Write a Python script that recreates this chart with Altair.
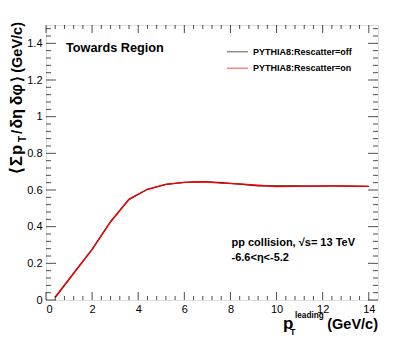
import altair as alt
import pandas as pd

# ---- data ----
pt_centers = [0.4, 1.2, 2.0, 2.8, 3.6, 4.4, 5.2, 6.0, 6.8, 7.6, 8.4, 9.2, 10.0, 10.8, 11.6, 12.4, 13.2, 14.0]
off_vals = [0.015, 0.146, 0.276, 0.427, 0.549, 0.604, 0.631, 0.642, 0.646, 0.640, 0.632, 0.622, 0.623, 0.622, 0.621, 0.622, 0.621, 0.620]
on_vals = [0.015, 0.146, 0.276, 0.427, 0.549, 0.604, 0.631, 0.642, 0.645, 0.637, 0.633, 0.626, 0.618, 0.620, 0.621, 0.622, 0.621, 0.620]
series_names = ["PYTHIA8:Rescatter=off", "PYTHIA8:Rescatter=on"]

x_major = [0, 2, 4, 6, 8, 10, 12, 14]
x_minor = [round(0.4 * i, 2) for i in range(1, 36) if (i % 5) != 0]
y_major = [0, 0.2, 0.4, 0.6, 0.8, 1.0, 1.2, 1.4]
y_minor = [round(0.04 * i, 2) for i in range(1, 38) if (i % 5) != 0]

W, H = 332, 275
FONT = "Liberation Sans"

rows = []
for name, vals in zip(series_names, [off_vals, on_vals]):
    for x, v in zip(pt_centers, vals):
        rows.append({"pt": x, "val": v, "series": name})
df = pd.DataFrame(rows)

xs = alt.Scale(domain=[0, 14.4], nice=False, zero=False)
ys = alt.Scale(domain=[0, 1.5], nice=False, zero=False)
xaxis = alt.Axis(values=x_major, ticks=False, domain=False, grid=False,
                 labelFont=FONT, labelFontSize=11, labelPadding=3,
                 labelColor="black", title=None, format="~g")
yaxis = alt.Axis(values=y_major, ticks=False, domain=False, grid=False,
                 labelFont=FONT, labelFontSize=11, labelPadding=4,
                 labelColor="black", title=None, format="~g")

lines = alt.Chart(df).mark_line(strokeWidth=1.3).encode(
    x=alt.X("pt:Q", scale=xs, axis=xaxis),
    y=alt.Y("val:Q", scale=ys, axis=yaxis),
    color=alt.Color("series:N", scale=alt.Scale(domain=series_names, range=["#1a1a1a", "#ff0000"]), legend=None),
    order=alt.Order("series:N"),
)

xmaj = pd.DataFrame({"v": x_major})
xmin = pd.DataFrame({"v": x_minor})
ymaj = pd.DataFrame({"v": y_major})
ymin = pd.DataFrame({"v": y_minor})

def xticks(d, ln):
    out = []
    for yc in (H - ln / 2, ln / 2):
        out.append(alt.Chart(d).mark_tick(color="black", thickness=1, size=ln, orient="vertical").encode(
            x=alt.X("v:Q", scale=xs, axis=xaxis), y=alt.value(yc)))
    return out

def yticks(d, ln):
    out = []
    for xc in (ln / 2, W - ln / 2):
        out.append(alt.Chart(d).mark_tick(color="black", thickness=1, size=ln, orient="horizontal").encode(
            y=alt.Y("v:Q", scale=ys, axis=yaxis), x=alt.value(xc)))
    return out

ticks = xticks(xmaj, 8) + xticks(xmin, 4) + yticks(ymaj, 10) + yticks(ymin, 5)

def txt(s, x, y, size, align="left", baseline="middle", angle=0, bold=True):
    kw = dict(text=s, font=FONT, fontSize=size, align=align, baseline=baseline,
              fontWeight="bold" if bold else "normal", color="black")
    if angle:
        kw["angle"] = angle
    return alt.Chart(pd.DataFrame({"a": [0]})).mark_text(**kw).encode(
        x=alt.value(x), y=alt.value(y))

def seg(color, y):
    return alt.Chart(pd.DataFrame({"a": [0]})).mark_rule(color=color, strokeWidth=1.5).encode(
        x=alt.value(181), x2=alt.value(202), y=alt.value(y))

def ytitle(s, yend, size, xb=-24):
    return txt(s, xb, yend, size, align="right", baseline="alphabetic", angle=270)

annots = [
    txt("Towards Region", 20, 23, 12.7),
    seg("#8c8c8c", 26.7), txt(series_names[0], 207, 26.7, 9),
    seg("#ff8080", 43.3), txt(series_names[1], 207, 43.3, 9),
    txt("pp collision, √s= 13 TeV", 185.5, 218, 11),
    txt("-6.6<η<-5.2", 185.5, 233, 11),
    # x axis title
    txt("p", 237, 304, 17, baseline="alphabetic"),
    txt("leading", 249, 293, 8.2, baseline="alphabetic"),
    txt("T", 244, 310, 9, baseline="alphabetic"),
    txt("(GeV/c)", 332, 304, 14.5, align="right", baseline="alphabetic"),
    # y axis title (rotated, pieces from top to bottom)
    ytitle("(GeV/c)", -3, 14.5),
    ytitle("⟩", 51, 15),
    ytitle("δφ", 59, 16),
    ytitle("δη", 84, 16),
    ytitle("/", 105, 14.5),
    ytitle("T", 111, 10, xb=-20),
    ytitle("p", 120, 16.5),
    ytitle("Σ", 131, 16.5),
    ytitle("⟨", 142, 16.5),
]

chart = alt.layer(lines, *ticks, *annots).properties(
    width=W, height=H,
    autosize=alt.AutoSizeParams(type="none"),
    padding={"left": 38, "top": 17, "right": 29, "bottom": 36},
).configure_view(stroke="black", strokeWidth=1).configure(background="white")

chart.save("out.html", embed_options={"renderer": "svg", "actions": False})
